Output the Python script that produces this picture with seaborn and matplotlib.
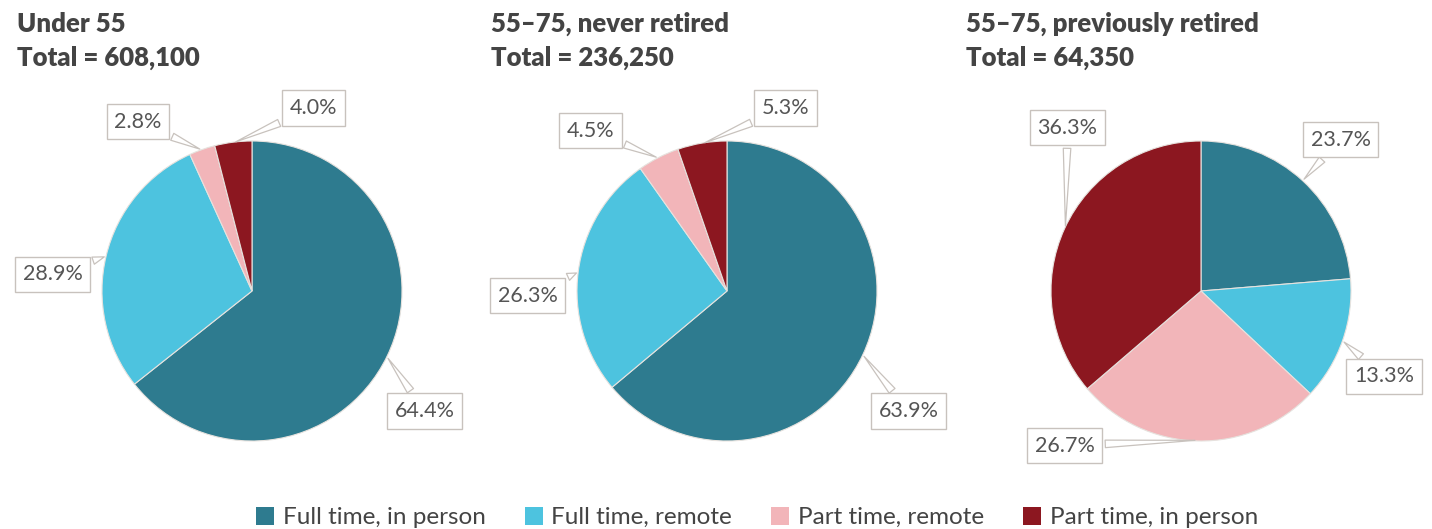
#!/usr/bin/env python3
# plot.py
# Work arrangement shares by age / retirement group, three pies with callout labels
# Usage: python plot.py  -> writes out.png

import numpy as np
import matplotlib.pyplot as plt
from matplotlib.patches import Patch
import seaborn as sns

# Data
categories = ["Full time, in person", "Full time, remote", "Part time, remote", "Part time, in person"]
groups = ["Under 55", "55\u201375, never retired", "55\u201375, previously retired"]
totals = ["608,100", "236,250", "64,350"]
under55 = [64.4, 28.9, 2.8, 4.0]
never_retired = [63.9, 26.3, 4.5, 5.3]
prev_retired = [23.7, 13.3, 26.7, 36.3]
shares = [under55, never_retired, prev_retired]

# Style
sns.set_theme(style="white")
plt.rcParams["font.family"] = ["Lato", "DejaVu Sans"]
palette = sns.color_palette(["#2e7b8f", "#4dc3df", "#f2b5b9", "#8c1720"])
TEXT = "#444444"
LABEL = "#555555"
EDGE = "#c8c2bd"

W, H = 1432, 529
fig = plt.figure(figsize=(W / 100, H / 100), dpi=100)
fig.patch.set_facecolor("white")

# Layout (pixels): pie centres, radius, title x
centres = [(252, 291), (727, 291), (1201, 291)]
R = 150
title_x = [17, 491, 966]
# label box centres in pie units (radius = 1), same order as categories
label_pos = [
    [(1.15, -0.80), (-1.33, 0.11), (-0.76, 1.13), (0.41, 1.22)],
    [(1.21, -0.80), (-1.33, -0.03), (-0.91, 1.07), (0.39, 1.22)],
    [(0.93, 1.01), (1.22, -0.57), (-0.91, -1.03), (-0.89, 1.09)],
]

half = 200
lim = half / R
for i, vals in enumerate(shares):
    cx, cy = centres[i]
    ax = fig.add_axes([(cx - half) / W, (H - cy - half) / H, 2 * half / W, 2 * half / H])
    wedges, _ = ax.pie(
        vals,
        colors=palette,
        startangle=90,
        counterclock=False,
        radius=1,
        wedgeprops=dict(edgecolor="#e6e2de", linewidth=0.8),
    )
    ax.set_xlim(-lim, lim)
    ax.set_ylim(-lim, lim)
    ax.set_aspect("equal")
    ax.axis("off")

    total = float(np.sum(vals))
    cum = 0.0
    for j, v in enumerate(vals):
        mid = 90 - (cum + v / 2) / total * 360
        cum += v
        tx, ty = np.cos(np.radians(mid)), np.sin(np.radians(mid))
        lx, ly = label_pos[i][j]
        ax.annotate(
            f"{v:.1f}%",
            xy=(tx * 0.995, ty * 0.995),
            xytext=(lx, ly),
            ha="center",
            va="center",
            fontsize=15.5,
            color=LABEL,
            annotation_clip=False,
            bbox=dict(boxstyle="square,pad=0.35", fc="white", ec=EDGE, lw=1.0),
            arrowprops=dict(
                arrowstyle="wedge,tail_width=0.35,shrink_factor=0.5",
                fc="white",
                ec=EDGE,
                lw=0.9,
            ),
            zorder=5,
        )

    fig.text(title_x[i] / W, 1 - 32 / H, groups[i], fontsize=18.5, fontweight="heavy",
             color=TEXT, ha="left", va="baseline")
    fig.text(title_x[i] / W, 1 - 66 / H, f"Total = {totals[i]}", fontsize=18.5, fontweight="heavy",
             color=TEXT, ha="left", va="baseline")

handles = [Patch(facecolor=palette[k], edgecolor="none", label=c) for k, c in enumerate(categories)]
fig.legend(
    handles=handles,
    loc="lower center",
    bbox_to_anchor=(757 / W, -0.04),
    ncol=4,
    frameon=False,
    fontsize=17.5,
    handlelength=0.75,
    handleheight=0.75,
    handletextpad=0.35,
    columnspacing=1.6,
    labelcolor=TEXT,
)

fig.savefig("out.png", dpi=100, facecolor="white")
plt.close(fig)
print("Saved out.png")
